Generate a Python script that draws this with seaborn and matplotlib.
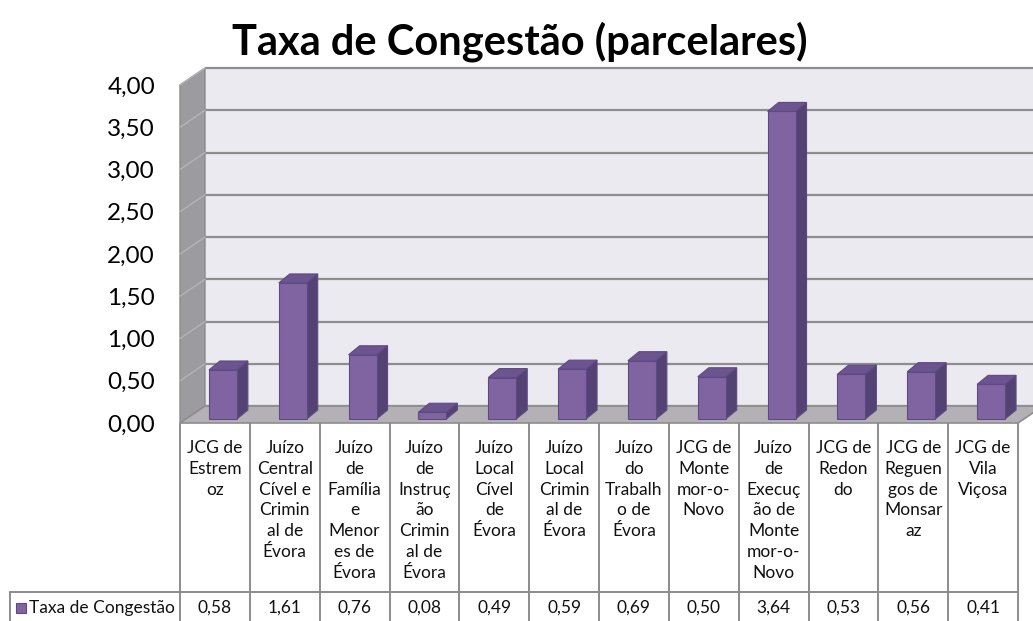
import numpy as np
import pandas as pd
import matplotlib
matplotlib.use("Agg")
import matplotlib.pyplot as plt
from matplotlib.patches import Polygon, Rectangle
import seaborn as sns

# Chart data
categories = [
    "JCG de\nEstrem\noz",
    "Juízo\nCentral\nCível e\nCrimin\nal de\nÉvora",
    "Juízo\nde\nFamília\ne\nMenor\nes de\nÉvora",
    "Juízo\nde\nInstruç\não\nCrimin\nal de\nÉvora",
    "Juízo\nLocal\nCível\nde\nÉvora",
    "Juízo\nLocal\nCrimin\nal de\nÉvora",
    "Juízo\ndo\nTrabalh\no de\nÉvora",
    "JCG de\nMonte\nmor-o-\nNovo",
    "Juízo\nde\nExecuç\não de\nMonte\nmor-o-\nNovo",
    "JCG de\nRedon\ndo",
    "JCG de\nReguen\ngos de\nMonsar\naz",
    "JCG de\nVila\nViçosa",
]
values = [0.58, 1.61, 0.76, 0.08, 0.49, 0.59, 0.69, 0.50, 3.64, 0.53, 0.56, 0.41]
series_name = "Taxa de Congestão"
title = "Taxa de Congestão (parcelares)"
y_ticks = [0, 0.5, 1, 1.5, 2, 2.5, 3, 3.5, 4]

df = pd.DataFrame({"cat": range(len(values)), "val": values})

sns.set_theme(style="white")
plt.rcParams["font.family"] = ["Lato", "DejaVu Sans"]

W, H = 1033, 621
fig = plt.figure(figsize=(W / 100, H / 100), dpi=100)
fig.patch.set_facecolor("white")

# background overlay in pixel coords (for table)
bg = fig.add_axes([0, 0, 1, 1], zorder=0)
bg.set_xlim(0, W)
bg.set_ylim(H, 0)
bg.axis("off")

# main plot axes covering the front plane
x0, x1, ytop, ybot = 180, 1018, 85, 423
ax = fig.add_axes([x0 / W, (H - ybot) / H, (x1 - x0) / W, (ybot - ytop) / H], zorder=1)
ax.set_facecolor("none")
n = len(values)
ax.set_xlim(-0.5, n - 0.5)
ax.set_ylim(0, 4)

pxx = (x1 - x0) / n          # pixels per category
pxy = (ybot - ytop) / 4.0    # pixels per value unit
wdx, wdy = 25 / pxx, 17 / pxy    # wall depth
bfx, bfy = 8 / pxx, 4 / pxy      # bar front offset
bdx, bdy = 11 / pxx, 9 / pxy     # bar depth

purple = "#8064A2"
purple_side = "#554274"
purple_top = "#6B5490"
edge = "#5E4A82"

L, R = -0.5, n - 0.5
# back wall
ax.add_patch(Rectangle((L + wdx, wdy), R - L + 1, 4, facecolor="#ECEAF1",
                       edgecolor="none", zorder=0, clip_on=False))
# left wall
ax.add_patch(Polygon([(L, 0), (L + wdx, wdy), (L + wdx, 4 + wdy), (L, 4)],
                     facecolor="#9C9B9F", edgecolor="#8C8C8C", lw=1, zorder=0.5, clip_on=False))
# gridlines on back wall and left wall
for t in y_ticks:
    ax.plot([L + wdx, R + wdx + 1], [t + wdy, t + wdy], color="#8E8E8E", lw=1.6,
            zorder=0.6, clip_on=False, solid_capstyle="butt")
    ax.plot([L, L + wdx], [t, t + wdy], color="#B4B4B4", lw=1.0, zorder=0.6, clip_on=False)
# floor
ax.add_patch(Polygon([(L, 0), (R, 0), (R + wdx, wdy), (L + wdx, wdy)],
                     facecolor="#B3B1B6", edgecolor="#8C8C8C", lw=1.2, zorder=0.7, clip_on=False))

# bars
sns.barplot(data=df, x="cat", y="val", ax=ax, color=purple, width=0.40,
            saturation=1, native_scale=True, errorbar=None, zorder=2)
for p in ax.patches:
    if not isinstance(p, Rectangle) or p.get_zorder() != 2:
        continue
    bx, bw, bh = p.get_x() + bfx, p.get_width(), p.get_height()
    by = bfy
    p.set_x(bx)
    p.set_y(by)
    p.set_edgecolor(edge)
    p.set_linewidth(0.8)
    side = Polygon([(bx + bw, by), (bx + bw + bdx, by + bdy), (bx + bw + bdx, by + bh + bdy),
                    (bx + bw, by + bh)], facecolor=purple_side, edgecolor=edge, lw=0.8, zorder=1.9)
    top = Polygon([(bx, by + bh), (bx + bdx, by + bh + bdy), (bx + bw + bdx, by + bh + bdy),
                   (bx + bw, by + bh)], facecolor=purple_top, edgecolor=edge, lw=0.8, zorder=1.9)
    ax.add_patch(side)
    ax.add_patch(top)

ax.set_xticks([])
ax.set_yticks(y_ticks)
ax.set_yticklabels([f"{t:.2f}".replace(".", ",") for t in y_ticks], fontsize=17.5, color="black")
ax.tick_params(axis="y", length=0, pad=18)
ax.set_xlabel("")
ax.set_ylabel("")
for s in ax.spines.values():
    s.set_visible(False)

# title
fig.text(520 / W, 1 - 42 / H, title, ha="center", va="center", fontsize=30,
         fontweight="bold", color="black")

# data table
lc = "#8C8C8C"
row_y = 592
tc = "#111111"
cols = np.linspace(x0, x1, n + 1)
for cx in cols:
    bg.plot([cx, cx], [ybot, H], color=lc, lw=1.4)
bg.plot([10, x1], [row_y, row_y], color=lc, lw=1.4)
bg.plot([10, 10], [row_y, H], color=lc, lw=1.4)
for i in range(n):
    cxm = (cols[i] + cols[i + 1]) / 2
    bg.text(cxm, 440, categories[i], ha="center", va="top", fontsize=12.5,
            linespacing=1.37, color=tc)
    bg.text(cxm, 608, f"{values[i]:.2f}".replace(".", ","), ha="center", va="center",
            fontsize=12.5, color=tc)
bg.add_patch(Rectangle((16, 603), 10, 10, facecolor=purple, edgecolor=edge, lw=0.8))
bg.text(29, 608, series_name, ha="left", va="center", fontsize=12.5, color=tc)

fig.savefig("out.png", dpi=100)
